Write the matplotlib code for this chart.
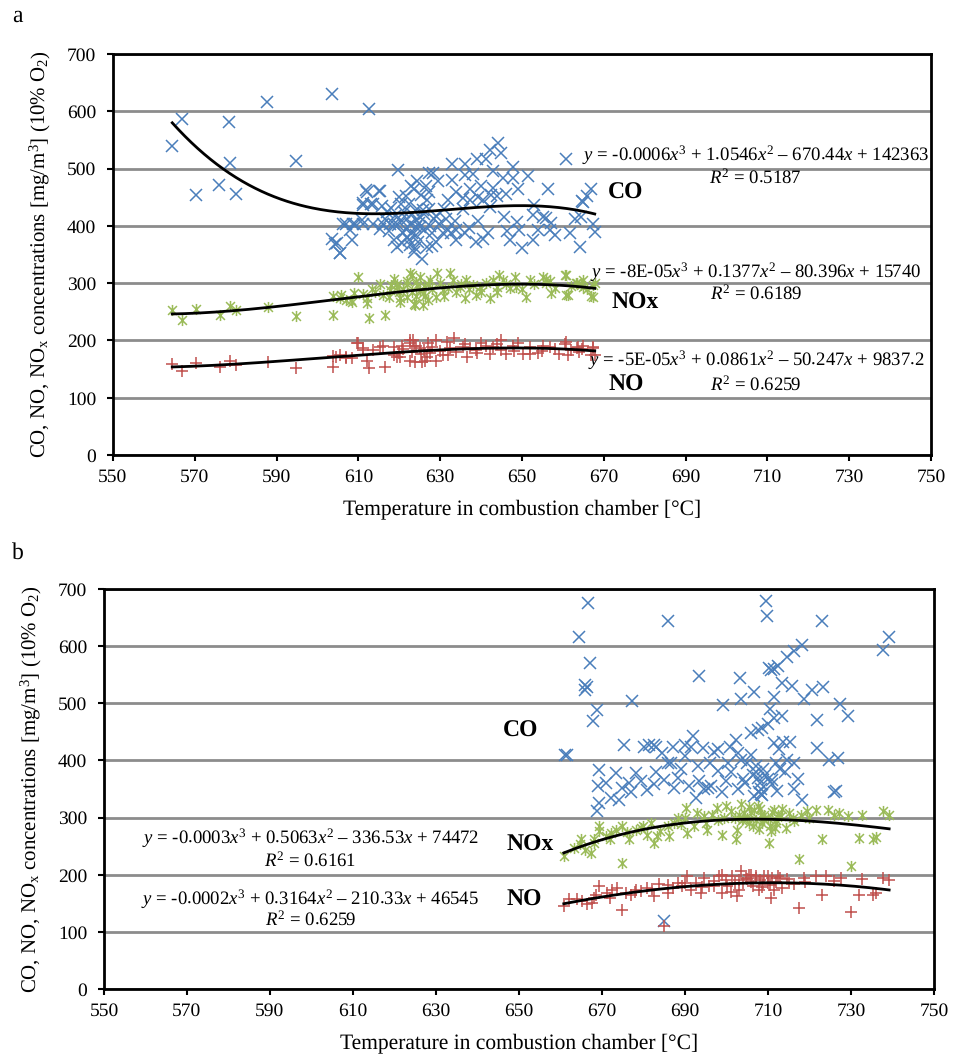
import numpy as np
import matplotlib

matplotlib.use("Agg")
import matplotlib.pyplot as plt
from matplotlib.path import Path

# ---- panel a data (temperature °C, concentration mg/m3) ----
co_a = [
    (564.5, 540), (567, 586), (570.2, 454), (576, 471), (578.4, 581), (578.7, 510), (580.2, 455),
    (587.7, 617), (594.7, 514), (603.6, 631), (612.7, 604), (619.6, 497),
    (603.6, 378), (604.4, 369), (605.5, 352), (608.5, 376), (606.3, 404), (608.8, 404), (611.2, 404),
    (613.7, 404), (616.1, 404), (618.6, 404), (611.9, 462), (615, 461), (611.1, 440), (613, 438),
    (615.7, 435), (627.2, 493), (628.2, 493), (632.9, 508), (636, 508), (636, 489), (639, 516),
    (641.1, 516), (642.2, 532), (644.2, 545), (644.8, 528), (643, 496), (645.4, 484), (647.9, 503),
    (647.7, 483), (651.4, 487), (656.4, 465), (660.7, 516), (666.8, 465), (664.8, 443), (664.4, 416),
    (667.4, 404), (667.8, 389), (664.1, 363), (661.8, 387), (656.9, 393), (655.1, 416), (652.6, 419),
    (652.6, 375), (648.7, 406), (649.2, 392), (646.3, 391), (645.5, 416), (642.5, 454), (644, 453),
    (642.2, 433), (640.6, 445), (637.4, 465), (639.2, 451), (637.3, 445), (635.5, 448), (635.7, 429),
    (636.2, 387), (638.8, 372), (640.4, 378), (641.7, 387), (639.2, 409), (633.7, 408), (631.5, 412),
    (634, 392), (632.7, 387), (630.9, 429), (629.5, 479), (624.4, 479), (627.2, 459), (626.7, 446),
    (625.4, 454), (623.6, 465), (621.6, 452), (620.4, 438), (622.5, 439), (621.2, 425), (624.4, 430),
    (625.9, 427), (627.3, 430), (629.1, 418), (624.1, 410), (622.6, 404), (619.8, 402), (617.7, 403),
    (615.3, 395), (612, 459), (615.3, 461), (613.6, 439), (611.2, 436), (610.8, 410), (609.2, 404),
    (607, 404), (608, 393), (604.8, 370), (605.5, 353), (617.4, 391), (618.7, 376), (619.5, 363),
    (620.7, 370), (621.9, 380), (622.7, 366), (623.5, 355), (624.5, 372), (625.5, 343), (626.7, 363),
    (628, 387), (629, 372), (621.6, 395), (623, 387), (625, 398), (624.1, 384), (630.7, 387),
    (629.6, 404), (631.9, 393), (622, 412), (623, 420), (624, 398), (625, 415), (626, 392),
    (622.5, 375), (623.8, 362), (624.8, 405), (626, 420), (627.5, 400), (628.5, 412), (620.5, 410),
    (621, 388), (619, 418), (617, 425), (616.5, 412), (618, 432), (620, 450), (622.8, 470),
    (626.5, 470), (634, 460), (643, 466), (649, 465), (653, 437), (657, 405),
    (663, 412), (647, 375), (650, 362), (634, 376), (637, 396), (628, 365),
    (632, 445), (633, 480), (638, 490), (640, 470), (646, 455), (654, 392), (658, 385),
    (656, 413), (665, 442), (666, 452),
]
nox_a = [
    (564.5, 253), (567, 236), (570.3, 255), (576.2, 244), (578.5, 261), (580.1, 253), (587.8, 259),
    (594.7, 243), (603.7, 245), (603.9, 277), (605.5, 275), (607.1, 271), (608.5, 268), (610, 311),
    (612, 266), (612.7, 240), (611.2, 282), (613.3, 290), (615.3, 299), (616.4, 245), (616.1, 280),
    (617.8, 288), (619.4, 299), (620.2, 275), (621.8, 304), (623.1, 314), (623.8, 262), (625, 288),
    (626.2, 277), (627, 299), (619.4, 294), (622.6, 317), (621.8, 276), (624.3, 297), (625.9, 283),
    (627.5, 306), (629.3, 318), (632.4, 317), (630.8, 288), (629.1, 276), (625.9, 262), (623.5, 264),
    (620.2, 268), (634.8, 294), (636.4, 306), (636, 274), (638.8, 280), (641.3, 300), (642.1, 274),
    (644.5, 314), (645.4, 306), (648.2, 311), (648.6, 294), (651.1, 276), (655.2, 311), (656, 300),
    (656.8, 303), (660.8, 314), (661.3, 280), (663.3, 300), (664.5, 297), (667.4, 276), (667.8, 300),
    (652, 306), (647.1, 291), (643.8, 294), (639.7, 294), (638.1, 297), (633.2, 306), (605.8, 280),
    (608.2, 271), (609, 283), (618.6, 308), (617.4, 276), (625.1, 311), (621, 290), (622, 298),
    (623, 285), (624, 302), (626, 295), (628, 290), (630, 300), (632, 292), (634, 285), (637, 290),
    (640, 285), (643, 305), (646, 298), (650, 290), (653, 298), (658, 292), (662, 295), (666, 290),
    (620, 285), (624, 278), (627, 270), (631, 278), (635, 298), (644, 284), (657, 283), (665, 305),
    (618, 296), (614, 285), (612, 275), (656, 308), (660.5, 314), (660.8, 279), (663.4, 300),
    (664.9, 293), (667.4, 296), (667, 278),
]
no_a = [
    (564.5, 159), (567, 147), (570.3, 160), (576.2, 154), (578.5, 164), (580.1, 158), (587.8, 162),
    (594.7, 152), (603.7, 154), (603.9, 173), (605.5, 174), (607.1, 171), (608.5, 169), (610, 195),
    (611.2, 183), (612, 164), (612.7, 152), (613.7, 183), (615.3, 188), (616.4, 154), (616.1, 191),
    (618.6, 189), (620.6, 191), (622.6, 196), (623.3, 200), (619.4, 171), (623.8, 162), (625.4, 176),
    (626.2, 164), (609.7, 195), (611.2, 186), (622.6, 200), (623.5, 191), (625.1, 186), (622.6, 164),
    (625.5, 162), (627.5, 179), (629.1, 200), (631.6, 197), (632.4, 186), (630.8, 174), (633.3, 204),
    (635.7, 189), (637.4, 186), (636.6, 171), (638.8, 183), (641.3, 191), (642.1, 177), (645, 200),
    (646.2, 177), (647.9, 191), (650.3, 177), (651.9, 177), (655.2, 191), (656.8, 189), (660.8, 197),
    (661.3, 174), (663.7, 189), (667.4, 186), (667.8, 174), (604.6, 171), (607.1, 169), (618.6, 174),
    (620.2, 171), (626.7, 171), (629.1, 164), (621, 185), (624, 190), (626, 183), (628, 188),
    (630, 182), (634, 180), (636, 193), (639, 178), (643, 188), (645, 184), (648, 182), (652, 188),
    (655, 182), (658, 185), (662, 183), (665, 190), (620, 178), (623, 180), (627, 195), (632, 175),
    (640, 195), (644, 193), (649, 196), (654, 178), (659, 177), (664, 180), (660.5, 194),
    (663.4, 187), (664.6, 185), (667.4, 189), (667, 175),
]

# ---- panel b data ----
co_b = [
    (666.7, 676), (664.4, 616), (667.1, 571), (666, 533), (666.3, 528), (665.8, 524), (668.7, 489),
    (667.8, 469), (677.3, 504), (686, 645), (693.5, 548), (699.1, 498), (703.3, 544), (703.4, 508),
    (706.6, 520), (709.5, 680), (709.8, 653), (710.3, 562), (710.7, 558), (712.3, 565), (711.5, 561),
    (714.7, 581), (716.2, 591), (718.3, 603), (713.5, 535), (715.7, 531), (711.4, 512), (710.5, 490),
    (713.5, 477), (711.4, 474), (710, 463), (708.6, 457), (707.6, 454), (706, 448), (723, 645),
    (720.7, 524), (723.2, 528), (718.6, 508), (727.4, 499), (729.2, 477), (721.8, 471), (721.9, 422),
    (724.6, 401), (726.9, 404), (726.4, 346), (737.6, 593), (739.2, 617), (661, 410), (661.6, 410),
    (669.3, 384), (669, 355), (669.3, 326), (668.9, 311), (672.1, 335), (673.5, 378), (675.3, 427),
    (674.9, 352), (676.5, 361), (679.3, 364), (678.3, 378), (680.1, 424), (681.3, 427), (682.5, 427),
    (683, 424), (680.9, 349), (682.5, 358), (684.5, 413), (685.8, 396), (686.6, 396), (687, 424),
    (688.2, 370), (687.4, 352), (690, 407), (689.9, 427), (691.9, 442), (691.5, 424), (693.1, 390),
    (693.5, 364), (692.7, 335), (694.7, 350), (695.5, 352), (696.3, 355), (694.3, 421), (697.1, 415),
    (698, 381), (700, 364), (700.4, 396), (700.8, 424), (702.4, 436), (702.8, 413), (703.6, 401),
    (704, 367), (702.8, 350), (704.4, 361), (707, 380), (707.5, 370), (708, 360), (708.2, 350),
    (708.5, 340), (707.2, 390), (708.8, 385), (707.8, 345), (706.5, 375), (709.3, 375), (710.1, 368),
    (710.9, 365), (711.4, 430), (712.6, 420), (713.7, 432), (715.3, 433), (714.5, 400), (714.1, 380),
    (716.2, 396), (717.3, 367), (716.2, 350), (718.2, 330), (712.1, 347), (711, 358), (708.2, 341),
    (706.6, 338), (726, 345), (684.9, 119), (683, 380), (685, 365), (689, 385), (691, 355),
    (696, 395), (698, 420), (699, 345), (701, 380), (705, 395), (706, 410), (712, 395), (713, 385),
    (674, 330), (677, 345), (671, 360),
]
nox_b = [
    (660.8, 232), (663.2, 247), (664.8, 253), (666, 244), (667.3, 238), (668.1, 262), (669.3, 285),
    (669.3, 276), (670.9, 267), (672.1, 273), (673.3, 279), (674.9, 285), (674.9, 221), (676.5, 262),
    (678.1, 279), (679.3, 282), (680.9, 270), (682.5, 256), (683.3, 267), (681.7, 291), (684.1, 276),
    (686.2, 267), (687.4, 291), (688.2, 299), (689, 288), (690.2, 317), (690.6, 273), (692.2, 285),
    (693, 308), (694.6, 302), (695.4, 279), (696.6, 305), (697.8, 317), (699, 270), (699.4, 299),
    (701, 311), (702.6, 279), (702.2, 262), (703.4, 323), (704.2, 308), (705.5, 291), (706.7, 314),
    (707.5, 320), (708.3, 305), (709.1, 297), (710.3, 256), (710.7, 276), (711.5, 314), (711.9, 291),
    (713.1, 302), (714.3, 282), (715.1, 308), (716.3, 294), (717.5, 227), (717.9, 305), (719.5, 311),
    (721.5, 314), (723, 262), (724.4, 314), (726, 305), (727.2, 308), (729.2, 302), (730.1, 216),
    (732, 264), (732.6, 305), (735.2, 263), (736, 266), (737.6, 311), (739.2, 305),
    (705, 300), (706, 310), (707, 295), (708, 315), (709, 305), (710, 300), (711, 310), (712, 295),
    (704, 298), (703, 305), (706.5, 285), (708.5, 290), (710.5, 285), (712.5, 305), (713.5, 315),
    (705.5, 318), (702, 300), (698, 295), (695, 290), (690, 300), (686, 285), (680, 285), (676, 275),
    (672, 262), (668, 255), (665, 262), (700, 320), (716, 300), (720, 300), (703.8, 295),
    (707.8, 280), (711.8, 282),
]
no_b = [
    (660.8, 145), (662, 157), (664, 157), (665.2, 154), (666.4, 148), (667.7, 151), (668.5, 165),
    (669.3, 180), (671.3, 168), (672.5, 174), (673.7, 177), (674.9, 139), (675.7, 168), (676.9, 165),
    (678.1, 174), (679.3, 171), (680.9, 177), (682.5, 162), (683.7, 183), (684.9, 110), (685.8, 168),
    (687, 177), (688.2, 186), (689.4, 180), (690.4, 197), (691.4, 174), (692.6, 186), (693.8, 168),
    (694.6, 195), (695.8, 180), (697, 189), (698.2, 197), (699, 168), (700.2, 180), (701.4, 197),
    (702.6, 162), (703, 174), (703.4, 206), (704.6, 195), (705.9, 200), (707.1, 197), (707.9, 174),
    (708.7, 186), (709.9, 197), (710.7, 160), (711.5, 174), (712.3, 197), (713.5, 177), (714.7, 192),
    (716.3, 183), (717.5, 142), (718.7, 195), (721.5, 197), (723, 165), (724, 197), (726, 189),
    (727.6, 195), (730.1, 134), (732, 165), (732.6, 192), (735.2, 165), (736, 168), (737.6, 195),
    (739.2, 190), (705, 192), (706, 188), (707, 195), (708, 190), (709, 198), (710, 185),
    (711, 195), (712, 188), (704, 185), (703, 190), (706.5, 180), (708.5, 178), (710.5, 182),
    (713, 195), (702, 185), (700, 190), (697, 180), (694, 178), (690, 185), (686, 182), (682, 175),
    (678, 170), (672, 160), (668, 160), (715, 185), (719, 188), (701, 170), (699, 200), (705.5, 200),
]

eq_a = {
    "co": ("$y$ = -0.0006$x^3$ + 1.0546$x^2$ \u2013 670.44$x$ + 142363", "$R^2$ = 0.5187"),
    "nox": ("$y$ = -8E-05$x^3$ + 0.1377$x^2$ \u2013 80.396$x$ + 15740", "$R^2$ = 0.6189"),
    "no": ("$y$ = -5E-05$x^3$ + 0.0861$x^2$ \u2013 50.247$x$ + 9837.2", "$R^2$ = 0.6259"),
}
eq_b = {
    "nox": ("$y$ = -0.0003$x^3$ + 0.5063$x^2$ \u2013 336.53$x$ + 74472", "$R^2$ = 0.6161"),
    "no": ("$y$ = -0.0002$x^3$ + 0.3164$x^2$ \u2013 210.33$x$ + 46545", "$R^2$ = 0.6259"),
}

BLUE = "#4a7ebb"
GREEN = "#9bbb59"
RED = "#c0504d"
GRID = "#8c8c8c"

plt.rcParams["font.family"] = ["Liberation Serif", "DejaVu Serif"]
plt.rcParams["mathtext.fontset"] = "custom"
plt.rcParams["mathtext.rm"] = "Liberation Serif"
plt.rcParams["mathtext.it"] = "Liberation Serif:italic"
plt.rcParams["mathtext.bf"] = "Liberation Serif:bold"
plt.rcParams["text.hinting"] = "no_hinting"

star = Path(
    [(-1, -1), (1, 1), (-1, 1), (1, -1), (0, -1.25), (0, 1.25)],
    [Path.MOVETO, Path.LINETO] * 3,
)


def draw_points(ax, pts, marker, color, ms):
    arr = np.array(pts, dtype=float)
    ax.plot(arr[:, 0], arr[:, 1], linestyle="none", marker=marker, ms=ms,
            mew=1.1, color=color, zorder=3)
    return arr


def draw_trend(ax, arr):
    fit = np.polynomial.Polynomial.fit(arr[:, 0], arr[:, 1], 3)
    xs = np.linspace(arr[:, 0].min(), arr[:, 0].max(), 200)
    ax.plot(xs, fit(xs), color="black", lw=2.0, zorder=4)


def style_axes(ax):
    ax.set_xlim(550, 750)
    ax.set_ylim(0, 700)
    ax.set_xticks(np.arange(550, 751, 20))
    ax.set_yticks(np.arange(0, 701, 100))
    ax.yaxis.grid(True, color=GRID, lw=2.0)
    ax.set_axisbelow(True)
    for s in ax.spines.values():
        s.set_linewidth(2.0)
        s.set_color("black")
    ax.tick_params(direction="out", length=4, width=1.5, labelsize=14)
    ax.tick_params(axis="x", pad=6)
    ax.tick_params(axis="y", pad=8)
    ax.set_xlabel("Temperature in combustion chamber [\u00b0C]", fontsize=15.5, labelpad=9)
    ax.set_ylabel("CO, NO, NO$_\\mathregular{x}$ concentrations [mg/m$^\\mathregular{3}$] (10% O$_\\mathregular{2}$)",
                  fontsize=15, labelpad=10)


fig = plt.figure(figsize=(9.54, 10.58), dpi=100)
ax_a = fig.add_axes([0.1184, 0.5699, 0.8574, 0.379])
ax_b = fig.add_axes([0.109, 0.0652, 0.870, 0.378])

# panel a
arr = draw_points(ax_a, co_a, "x", BLUE, 8)
draw_trend(ax_a, arr)
arr = draw_points(ax_a, nox_a, star, GREEN, 8)
draw_trend(ax_a, arr)
arr = draw_points(ax_a, no_a, "+", RED, 8)
draw_trend(ax_a, arr)
style_axes(ax_a)

eq_x = 707.2
for key, (y_eq, y_r2) in zip(["co", "nox", "no"], [(523.6, 483.4), (319.4, 281), (165.8, 122)]):
    ax_a.text(eq_x, y_eq, eq_a[key][0], ha="center", va="center", fontsize=13.5, zorder=5)
    ax_a.text(eq_x, y_r2, eq_a[key][1], ha="center", va="center", fontsize=13.5, zorder=5)
ax_a.text(675.4, 457, "CO", ha="center", va="center", fontsize=17, fontweight="bold")
ax_a.text(677.6, 265, "NOx", ha="center", va="center", fontsize=17, fontweight="bold")
ax_a.text(675.4, 122, "NO", ha="center", va="center", fontsize=17, fontweight="bold")

# panel b
draw_points(ax_b, co_b, "x", BLUE, 8)
arr = draw_points(ax_b, nox_b, star, GREEN, 8)
draw_trend(ax_b, arr)
arr = draw_points(ax_b, no_b, "+", RED, 8)
draw_trend(ax_b, arr)
style_axes(ax_b)

eq_xb = 599.7
for key, (y_eq, y_r2) in zip(["nox", "no"], [(262.8, 223.7), (156.6, 120.8)]):
    ax_b.text(eq_xb, y_eq, eq_b[key][0], ha="center", va="center", fontsize=13.5, zorder=5)
    ax_b.text(eq_xb, y_r2, eq_b[key][1], ha="center", va="center", fontsize=13.5, zorder=5)
ax_b.text(650.4, 452, "CO", ha="center", va="center", fontsize=17, fontweight="bold")
ax_b.text(652.8, 252.8, "NOx", ha="center", va="center", fontsize=17, fontweight="bold")
ax_b.text(651.3, 156.6, "NO", ha="center", va="center", fontsize=17, fontweight="bold")

fig.text(12 / 954, 1 - 16 / 1058, "a", fontsize=17, ha="left", va="center")
fig.text(12 / 954, 1 - 553 / 1058, "b", fontsize=17, ha="left", va="center")

fig.savefig("out.png", dpi=100)
